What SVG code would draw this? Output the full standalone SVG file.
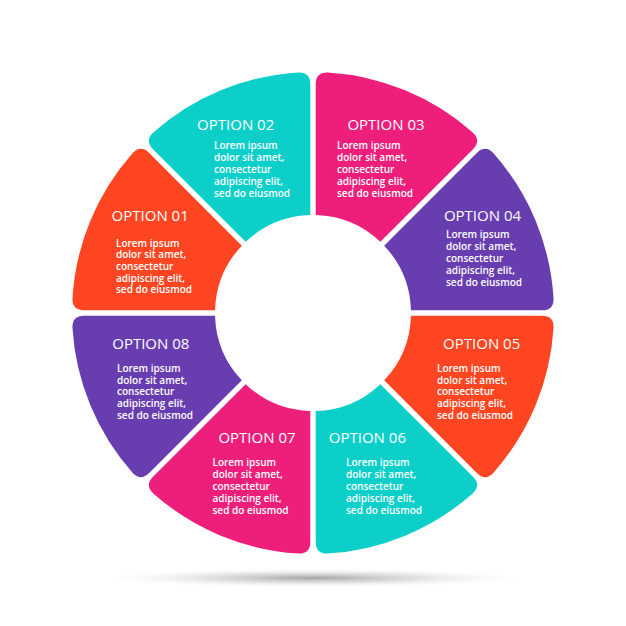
<svg xmlns="http://www.w3.org/2000/svg" xmlns:xlink="http://www.w3.org/1999/xlink" width="626" height="626" viewBox="0 0 626 626">
<style>
.t{font-family:"Open Sans","Liberation Sans",sans-serif;font-size:15px;fill:#fff;text-anchor:middle}
.b{font-family:"Open Sans","Liberation Sans",sans-serif;font-size:10px;font-weight:600;fill:#fff}
.teal{fill:#0ccfc9}.pink{fill:#ee1f7a}.purple{fill:#683db0}.orange{fill:#ff4521}
</style>
<defs>
<path id="seg" d="M2.7,-97.96 L2.7,-228.98 Q2.7,-240.98 14.71,-240.55 A241,241 0 0 1 159.71,-180.48 Q168.49,-172.31 160,-163.82 L67.36,-71.18 A98,98 0 0 0 2.7,-97.96 Z"/>
<radialGradient id="sh" cx="0.5" cy="0.5" r="0.5">
<stop offset="0" stop-color="#9a9a9a" stop-opacity="0.9"/>
<stop offset="0.5" stop-color="#c8c8c8" stop-opacity="0.5"/>
<stop offset="1" stop-color="#ffffff" stop-opacity="0"/>
</radialGradient>
</defs>
<rect width="626" height="626" fill="#fff"/>
<ellipse cx="313" cy="578" rx="220" ry="10" fill="url(#sh)"/>
<g id="connectors"/>
<g id="opt03">
<use xlink:href="#seg" class="pink" transform="translate(313 313) rotate(0)"/>
<text class="t" x="386" y="130">OPTION 03</text>
<text class="b"><tspan x="337" y="149.3">Lorem ipsum</tspan><tspan x="337" y="161.2">dolor sit amet,</tspan><tspan x="337" y="173">consectetur</tspan><tspan x="337" y="184.9">adipiscing elit,</tspan><tspan x="337" y="196.7">sed do eiusmod</tspan></text>
</g>
<g id="opt04">
<use xlink:href="#seg" class="purple" transform="translate(313 313) rotate(45)"/>
<text class="t" x="482.5" y="221">OPTION 04</text>
<text class="b"><tspan x="446" y="237.5">Lorem ipsum</tspan><tspan x="446" y="249.6">dolor sit amet,</tspan><tspan x="446" y="261.7">consectetur</tspan><tspan x="446" y="273.9">adipiscing elit,</tspan><tspan x="446" y="286">sed do eiusmod</tspan></text>
</g>
<g id="opt05">
<use xlink:href="#seg" class="orange" transform="translate(313 313) rotate(90)"/>
<text class="t" x="481.7" y="349.3">OPTION 05</text>
<text class="b"><tspan x="437" y="371.7">Lorem ipsum</tspan><tspan x="437" y="383.5">dolor sit amet,</tspan><tspan x="437" y="395.3">consectetur</tspan><tspan x="437" y="407.2">adipiscing elit,</tspan><tspan x="437" y="419">sed do eiusmod</tspan></text>
</g>
<g id="opt06">
<use xlink:href="#seg" class="teal" transform="translate(313 313) rotate(135)"/>
<text class="t" x="367.4" y="442.7">OPTION 06</text>
<text class="b"><tspan x="346" y="466">Lorem ipsum</tspan><tspan x="346" y="478.1">dolor sit amet,</tspan><tspan x="346" y="490.2">consectetur</tspan><tspan x="346" y="502.2">adipiscing elit,</tspan><tspan x="346" y="514.3">sed do eiusmod</tspan></text>
</g>
<g id="opt07">
<use xlink:href="#seg" class="pink" transform="translate(313 313) rotate(180)"/>
<text class="t" x="257" y="442.7">OPTION 07</text>
<text class="b"><tspan x="212.5" y="466">Lorem ipsum</tspan><tspan x="212.5" y="478.1">dolor sit amet,</tspan><tspan x="212.5" y="490.2">consectetur</tspan><tspan x="212.5" y="502.2">adipiscing elit,</tspan><tspan x="212.5" y="514.3">sed do eiusmod</tspan></text>
</g>
<g id="opt08">
<use xlink:href="#seg" class="purple" transform="translate(313 313) rotate(225)"/>
<text class="t" x="150.8" y="349.3">OPTION 08</text>
<text class="b"><tspan x="117" y="371.7">Lorem ipsum</tspan><tspan x="117" y="383.5">dolor sit amet,</tspan><tspan x="117" y="395.3">consectetur</tspan><tspan x="117" y="407.2">adipiscing elit,</tspan><tspan x="117" y="419">sed do eiusmod</tspan></text>
</g>
<g id="opt01">
<use xlink:href="#seg" class="orange" transform="translate(313 313) rotate(270)"/>
<text class="t" x="150.2" y="221">OPTION 01</text>
<text class="b"><tspan x="116" y="246.7">Lorem ipsum</tspan><tspan x="116" y="258.4">dolor sit amet,</tspan><tspan x="116" y="270">consectetur</tspan><tspan x="116" y="281.7">adipiscing elit,</tspan><tspan x="116" y="293.3">sed do eiusmod</tspan></text>
</g>
<g id="opt02">
<use xlink:href="#seg" class="teal" transform="translate(313 313) rotate(315)"/>
<text class="t" x="235.7" y="130">OPTION 02</text>
<text class="b"><tspan x="214" y="149.3">Lorem ipsum</tspan><tspan x="214" y="161.2">dolor sit amet,</tspan><tspan x="214" y="173">consectetur</tspan><tspan x="214" y="184.9">adipiscing elit,</tspan><tspan x="214" y="196.7">sed do eiusmod</tspan></text>
</g>
</svg>
